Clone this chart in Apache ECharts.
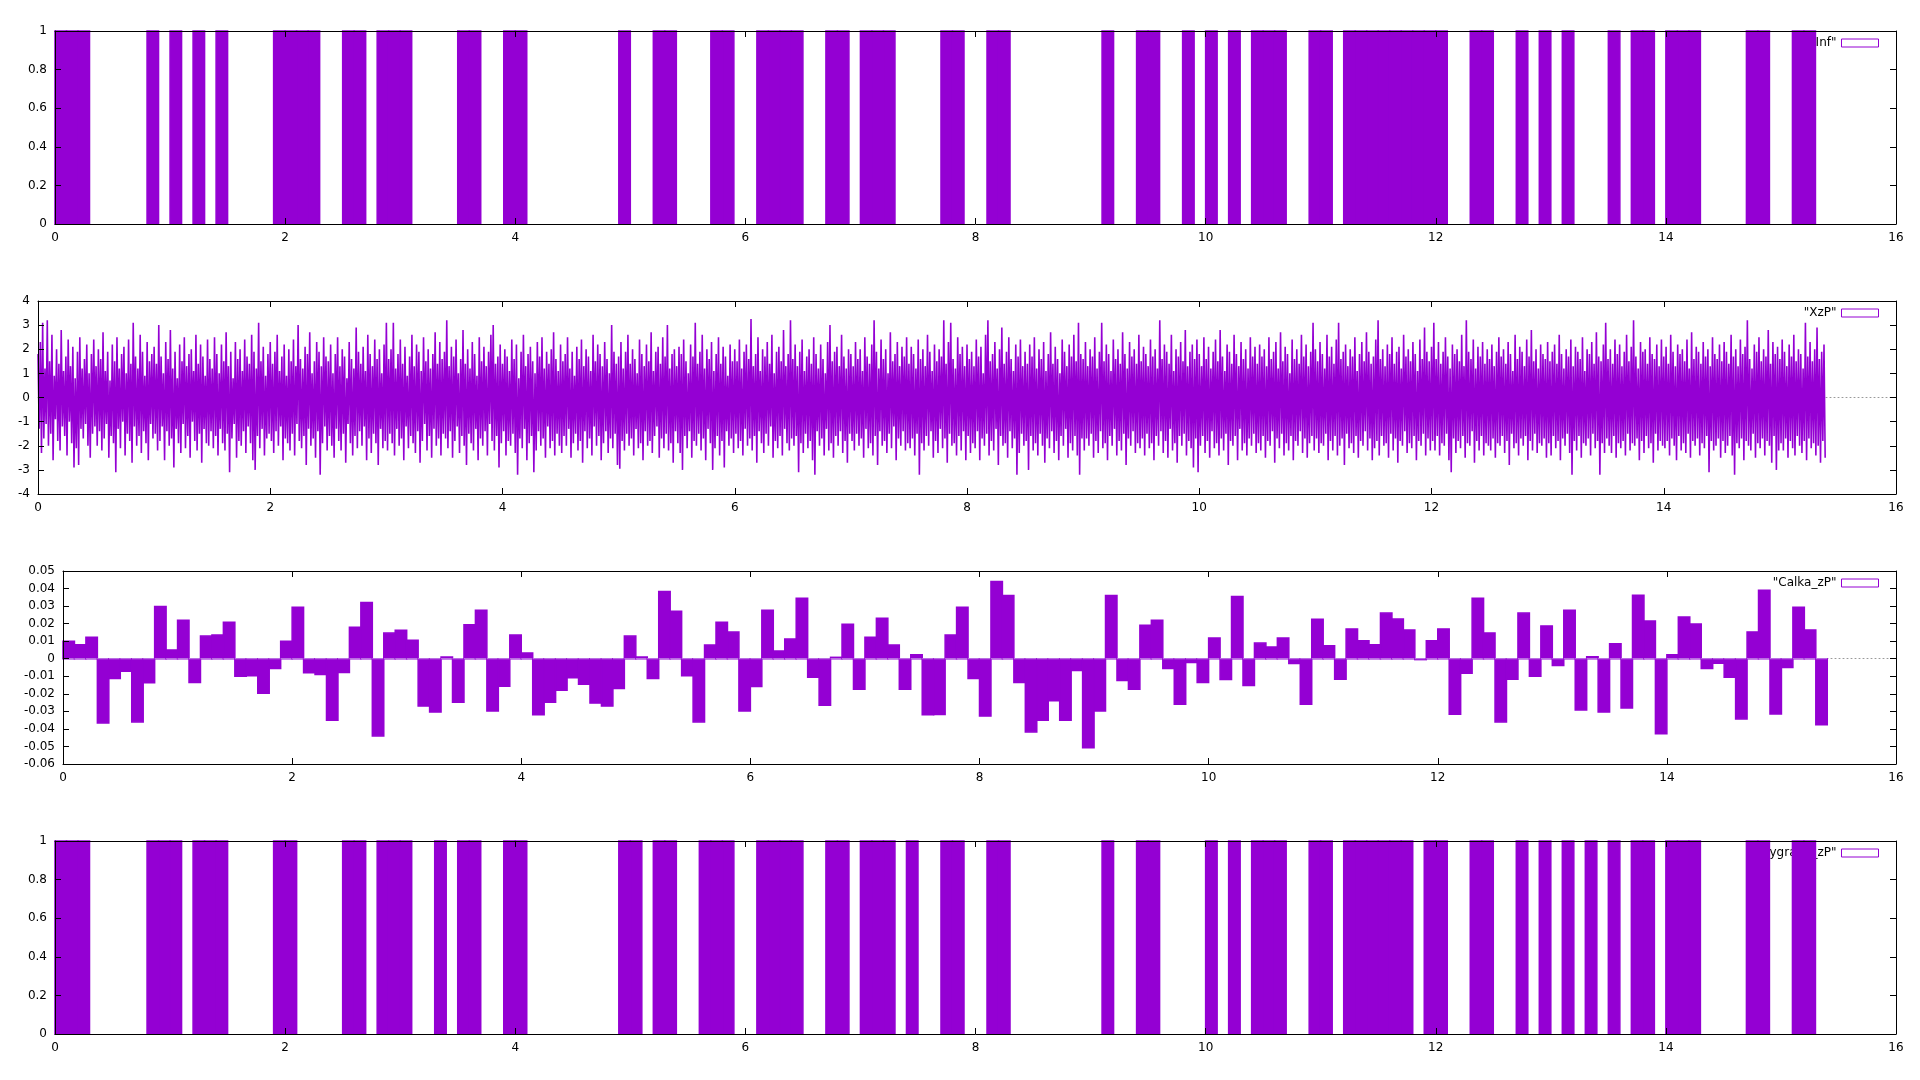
<!DOCTYPE html>
<html>
<head>
<meta charset="utf-8">
<title>Inf / XzP / Calka_zP</title>
<script src="https://cdn.jsdelivr.net/npm/echarts@6/dist/echarts.min.js"></script>
<style>
    html, body { margin: 0; padding: 0; background: #fff; }
    #main { width: 1920px; height: 1080px; }
</style>
</head>
<body>
<div id="main"></div>
<script type="text/javascript">
    // okres bitu i probkowania (jednostki osi x)
    var BIT = 0.1;
    var SAMPLE = 0.01;

    // panel 1: bity nadane
    var infBits = [
        1,1,1,0,0,0,0,0,1,0, 1,0,1,0,1,0,0,0,0,1, 1,1,1,0,0,1,1,0,1,1,
        1,0,0,0,0,1,1,0,0,1, 1,0,0,0,0,0,0,0,0,1, 0,0,1,1,0,0,0,1,1,0,
        0,1,1,1,1,0,0,1,1,0, 1,1,1,0,0,0,0,1,1,0, 0,1,1,0,0,0,0,0,0,0,
        0,1,0,0,1,1,0,0,1,0, 1,0,1,0,1,1,1,0,0,1, 1,0,1,1,1,1,1,1,1,1,
        1,0,0,1,1,0,0,1,0,1, 0,1,0,0,0,1,0,1,1,0, 1,1,1,0,0,0,0,1,1,0,
        0,1,1,0
    ];

    // panel 2: sygnal XzP, naprzemiennie szczyty (hi) i doliny (lo)
    var xzpHi = [
        1.8,2.3,3.1,1.2,3.2,1.5,2.6,0.9,2.0,1.4,2.8,1.1,1.7,2.4,1.3,2.1,0.8,1.9,2.5,1.2,1.6,2.2,1.0,1.8,2.4,
        1.3,2.0,1.6,2.7,1.1,1.9,0.7,2.2,1.5,2.5,1.2,1.8,2.1,1.0,2.4,1.4,3.1,1.7,1.2,2.6,1.9,0.9,2.3,1.5,1.8,
        2.1,1.4,3.0,1.7,1.0,2.3,1.6,2.8,1.2,1.9,0.8,2.2,1.5,2.5,1.3,1.8,2.0,1.1,2.6,1.4,2.2,1.7,0.9,2.4,1.6,
        1.2,2.5,1.8,1.0,2.2,1.5,2.7,1.3,1.9,0.8,2.3,1.6,2.0,1.1,2.4,1.7,1.4,2.6,1.9,1.2,3.1,1.5,2.1,0.9,1.8,
        2.3,1.4,1.9,2.6,1.1,1.7,2.2,0.9,2.0,1.5,2.4,1.3,3.0,1.6,1.2,2.1,1.8,2.7,1.0,1.5,2.3,1.9,1.3,2.5,1.7,
        1.5,2.2,1.0,1.8,2.5,1.3,2.0,1.7,0.8,2.3,1.6,1.2,2.9,1.9,1.4,2.1,1.1,2.6,1.8,1.3,2.4,1.6,2.0,1.0,2.2,
        3.1,1.6,2.0,3.1,1.2,1.8,2.4,1.4,2.1,0.9,1.7,2.6,1.3,2.2,1.9,1.1,2.5,1.5,2.0,1.2,1.8,2.7,1.4,2.3,1.6,
        1.9,3.2,1.3,2.1,1.7,2.4,1.0,1.6,2.8,1.4,2.0,1.2,2.3,1.8,0.9,2.5,1.5,2.1,1.3,1.9,2.6,3.0,1.4,1.7,2.2,
        1.4,2.0,1.7,1.1,2.4,1.6,2.2,0.8,1.9,2.6,1.3,1.8,2.1,1.5,1.0,2.3,1.7,2.5,1.2,1.9,1.4,2.0,2.7,1.6,1.1,
        2.2,1.5,1.8,2.5,1.2,1.9,0.9,2.1,1.6,2.4,1.3,2.0,1.7,1.1,2.6,1.5,2.2,1.8,1.3,2.3,1.6,1.0,3.0,1.9,1.4,
        1.7,2.3,1.2,1.9,2.6,1.4,2.0,1.6,1.0,2.4,1.8,1.3,2.2,1.5,2.7,1.1,1.9,2.1,1.4,2.5,1.7,3.0,1.2,1.8,2.0,
        1.3,2.1,1.8,2.4,1.5,1.0,2.2,1.7,3.1,1.4,1.9,2.6,1.2,2.0,1.6,2.3,1.1,1.8,2.5,1.4,2.1,1.7,0.9,2.2,1.5,
        2.0,1.5,2.4,1.2,1.9,2.2,1.6,3.25,1.3,1.8,2.5,1.1,2.0,1.7,2.3,1.4,2.6,1.0,1.9,2.1,1.5,2.8,1.3,1.8,3.2,
        1.6,2.2,1.3,1.9,2.4,1.1,1.7,2.0,1.4,2.5,1.8,1.2,2.2,1.6,1.0,2.3,3.0,1.5,1.9,2.1,1.3,2.6,1.7,1.2,2.0,
        1.8,1.3,2.3,1.6,2.0,1.1,2.5,1.7,1.4,2.2,3.2,1.9,1.2,2.4,1.6,2.0,1.0,2.7,1.5,1.8,2.3,1.3,2.1,1.7,2.5,
        1.4,2.1,1.8,1.2,2.4,1.6,2.0,1.3,2.6,1.9,1.1,2.2,1.5,2.0,1.7,3.2,1.4,2.3,3.1,1.6,1.2,2.5,1.8,2.1,1.3,
        2.2,1.6,1.9,1.3,2.4,1.7,2.1,1.0,2.6,3.2,1.5,1.8,2.3,1.2,2.0,2.9,1.4,1.9,2.5,1.6,1.1,2.2,1.7,2.4,1.3,
        1.9,1.4,2.2,1.7,2.5,1.2,2.0,1.6,2.3,1.1,1.8,2.7,1.4,2.1,1.6,1.0,2.4,1.9,1.3,2.2,1.7,2.6,1.5,3.1,1.8,
        1.6,2.3,1.3,2.0,1.7,2.5,1.2,1.9,3.1,1.5,2.2,1.8,1.1,2.4,1.6,2.0,1.4,2.7,1.8,1.2,2.3,1.7,2.0,1.4,2.6,
        1.5,2.1,1.8,1.3,2.4,1.7,2.0,1.2,3.2,1.6,2.2,1.9,1.4,2.6,1.1,2.0,1.7,2.3,1.5,2.8,1.3,1.9,2.2,1.6,2.4,
        1.8,1.3,2.5,1.6,2.1,1.2,1.9,2.4,1.5,2.8,1.7,1.1,2.2,1.9,1.4,2.6,1.8,1.3,2.3,1.6,2.0,1.2,2.5,1.7,2.1,
        1.4,2.2,1.7,2.0,1.3,2.5,1.6,1.9,2.3,1.2,2.7,1.5,2.1,1.8,1.0,2.4,1.6,2.0,1.4,2.6,1.7,2.2,1.3,1.9,3.1,
        2.0,1.5,2.3,1.8,1.2,2.6,1.7,2.1,1.4,2.4,3.1,1.6,1.9,2.2,1.3,2.0,1.7,2.5,1.1,1.8,2.3,1.5,2.7,1.9,1.4,
        1.7,2.4,3.2,1.6,2.0,1.3,2.2,1.8,2.5,1.4,1.9,2.1,1.2,2.6,1.7,2.0,1.5,2.3,1.8,1.1,2.4,1.6,2.9,1.9,1.5,
        2.1,3.1,1.6,2.3,1.4,1.9,2.5,1.7,1.2,2.2,1.8,2.0,1.5,2.6,1.3,3.2,1.9,1.6,2.4,1.2,2.1,1.7,2.3,1.4,2.0,
        1.6,2.2,1.3,1.9,2.5,1.7,2.0,1.4,2.3,1.8,1.1,2.6,1.6,2.1,1.9,1.3,2.4,1.7,2.8,1.5,2.0,1.2,2.2,1.8,1.6,
        2.3,1.5,1.9,2.2,1.4,2.6,1.8,1.2,2.0,1.7,2.4,1.3,2.1,1.9,1.6,2.5,1.1,2.0,1.8,2.3,1.4,2.7,1.7,1.5,2.2,
        3.1,1.6,2.0,1.4,2.4,1.8,2.2,1.3,1.9,2.6,1.5,2.1,3.2,1.7,1.2,2.3,1.9,2.0,1.4,2.5,1.8,1.6,2.2,1.3,2.4,
        1.7,2.1,1.4,2.6,1.9,1.3,2.2,1.8,2.0,1.5,2.4,1.2,2.7,1.6,2.1,1.9,1.4,2.3,1.7,2.0,1.3,2.5,1.8,1.6,2.2,
        1.5,2.3,1.9,1.4,2.6,1.7,2.0,1.3,2.4,1.8,2.1,3.2,1.6,1.2,2.2,1.9,2.5,1.5,2.0,1.7,2.8,1.4,2.3,1.8,2.1,
        1.6,2.4,1.9,1.3,2.2,1.7,2.6,1.5,2.0,1.8,1.2,3.1,1.7,2.3,1.5,2.0,2.9,1.6,1.9,2.2
    ];
    var xzpLo = [
        -1.3,-2.3,-1.7,-1.1,-2.0,-1.5,-2.6,-0.9,-1.8,-2.2,-1.2,-1.6,-2.4,-1.0,-1.9,-2.9,-2.1,-2.8,-1.3,-1.7,-1.1,-2.0,-2.5,-1.5,-1.2,
        -2.0,-1.4,-2.2,-1.7,-1.1,-2.5,-1.6,-1.9,-3.1,-1.3,-2.1,-1.0,-2.4,-1.5,-1.8,-2.7,-1.2,-2.0,-1.6,-2.3,-1.4,-1.9,-2.6,-1.1,-1.7,
        -1.5,-2.2,-1.8,-1.2,-2.6,-1.4,-2.0,-1.7,-2.9,-1.3,-1.9,-2.3,-1.1,-2.1,-1.6,-2.5,-1.0,-1.8,-2.2,-1.5,-2.7,-1.3,-1.9,-2.0,-1.4,
        -2.1,-1.6,-2.4,-1.3,-1.9,-2.2,-1.5,-3.1,-1.7,-1.1,-2.5,-1.8,-2.0,-1.4,-2.3,-1.2,-1.9,-2.6,-3.0,-1.6,-2.1,-1.3,-2.4,-1.7,-1.5,
        -1.8,-2.3,-1.4,-2.0,-1.2,-2.6,-1.7,-1.9,-2.2,-1.5,-2.4,-1.1,-1.8,-2.1,-1.6,-2.8,-1.3,-2.0,-1.7,-2.5,-1.4,-3.2,-1.9,-1.2,-2.2,
        -1.6,-2.0,-2.5,-1.3,-1.8,-2.2,-1.5,-2.7,-1.1,-1.9,-2.4,-1.6,-2.1,-1.4,-2.0,-1.2,-2.6,-1.7,-2.3,-1.5,-1.9,-2.8,-1.3,-2.1,-1.8,
        -2.2,-1.5,-1.9,-2.4,-1.3,-2.0,-1.7,-2.6,-1.2,-2.1,-1.6,-1.9,-2.3,-1.4,-2.7,-1.8,-1.1,-2.2,-1.6,-2.5,-1.3,-2.0,-1.7,-2.4,-1.5,
        -1.7,-2.1,-1.4,-2.5,-1.8,-1.2,-2.3,-1.6,-2.0,-2.8,-1.5,-1.9,-2.2,-1.3,-2.6,-1.7,-2.0,-1.4,-2.4,-1.1,-1.8,-2.2,-1.6,-2.9,-1.9,
        -1.4,-2.4,-1.8,-2.0,-1.5,-2.3,-3.2,-1.7,-2.1,-1.3,-2.6,-1.9,-1.6,-3.1,-2.2,-1.4,-2.0,-1.7,-2.5,-1.2,-2.1,-1.8,-2.4,-1.5,-2.0,
        -2.3,-1.6,-2.0,-1.3,-2.5,-1.9,-1.5,-2.2,-1.8,-2.7,-1.4,-2.1,-1.7,-2.4,-1.2,-2.0,-1.6,-2.6,-1.9,-1.4,-2.3,-1.7,-2.1,-1.5,-2.8,
        -2.95,-1.8,-2.2,-1.5,-2.0,-1.7,-2.4,-1.3,-2.1,-1.9,-2.6,-1.4,-2.0,-1.8,-2.3,-1.6,-1.2,-2.5,-1.7,-2.1,-1.5,-2.2,-1.9,-2.7,-1.4,
        -1.9,-2.3,-3.0,-1.6,-2.1,-1.4,-2.5,-1.8,-2.0,-1.5,-2.2,-1.7,-2.6,-1.3,-1.9,-3.0,-2.1,-1.6,-2.4,-1.8,-2.9,-1.4,-2.0,-1.7,-2.3,
        -1.5,-2.1,-1.8,-2.4,-1.3,-2.0,-1.7,-2.2,-1.6,-2.7,-1.4,-1.9,-2.3,-1.5,-2.0,-1.2,-2.5,-1.8,-2.1,-1.6,-2.4,-1.3,-1.9,-2.2,-1.7,
        -2.0,-1.6,-3.1,-1.9,-2.3,-1.5,-2.1,-1.8,-2.6,-3.2,-1.4,-2.0,-1.7,-2.4,-1.3,-2.2,-1.9,-2.5,-1.6,-2.0,-1.4,-2.3,-1.8,-2.7,-1.5,
        -1.8,-2.2,-1.5,-2.0,-1.7,-2.5,-1.3,-2.1,-1.9,-2.4,-1.6,-2.8,-1.4,-2.0,-1.8,-2.3,-1.5,-2.1,-1.2,-2.6,-1.7,-2.0,-1.4,-2.2,-1.9,
        -2.1,-1.7,-2.4,-1.5,-3.2,-1.9,-2.2,-1.6,-2.0,-1.4,-2.5,-1.8,-2.3,-1.3,-2.1,-1.7,-2.7,-1.5,-2.0,-1.9,-2.4,-1.6,-2.2,-1.4,-2.6,
        -1.6,-2.3,-1.9,-2.1,-1.4,-2.6,-1.7,-2.0,-1.5,-2.4,-1.8,-2.2,-1.3,-2.8,-1.6,-2.0,-1.9,-2.5,-1.4,-2.1,-1.7,-3.2,-2.3,-1.5,-2.0,
        -1.8,-3.0,-1.6,-2.2,-1.9,-2.4,-1.5,-2.0,-2.7,-1.7,-2.1,-1.4,-2.3,-1.8,-2.6,-1.6,-2.0,-1.3,-2.5,-1.9,-2.2,-1.6,-2.4,-3.2,-1.7,
        -2.2,-1.7,-2.0,-1.5,-2.5,-1.8,-2.3,-1.4,-2.1,-1.9,-2.6,-1.6,-2.0,-1.3,-2.4,-1.8,-2.2,-1.5,-2.8,-1.7,-2.0,-1.4,-2.3,-1.9,-2.1,
        -1.7,-2.4,-1.5,-2.1,-1.9,-2.6,-1.6,-2.0,-1.4,-2.3,-1.8,-2.5,-1.3,-2.2,-1.9,-2.7,-1.6,-2.0,-1.5,-2.4,-1.8,-2.1,-2.9,-1.7,-3.1,
        -2.0,-1.6,-2.3,-1.8,-2.5,-1.4,-2.1,-1.9,-2.4,-1.7,-2.2,-1.5,-2.8,-1.8,-2.0,-1.6,-2.6,-1.3,-2.2,-1.9,-2.4,-1.7,-2.0,-1.5,-2.3,
        -1.9,-2.2,-1.6,-2.5,-1.8,-2.0,-1.4,-2.7,-1.7,-2.1,-1.5,-2.4,-1.9,-2.2,-1.6,-2.6,-1.8,-2.0,-1.4,-2.3,-1.7,-2.5,-1.9,-1.6,-2.2,
        -1.7,-2.3,-1.9,-2.0,-1.5,-2.6,-1.8,-2.2,-1.6,-2.4,-2.0,-1.7,-2.8,-1.5,-2.1,-1.9,-2.3,-1.6,-2.5,-1.8,-2.0,-1.4,-2.2,-1.7,-2.6,
        -2.1,-1.8,-2.4,-1.6,-2.0,-1.9,-2.5,-1.5,-2.2,-1.7,-2.7,-1.8,-2.0,-1.4,-2.3,-1.9,-2.1,-1.6,-2.6,-1.8,-2.0,-1.5,-2.4,-1.7,-2.2,
        -1.8,-2.2,-1.6,-2.4,-1.9,-2.0,-1.5,-2.6,-3.1,-1.7,-2.3,-1.8,-2.1,-1.6,-2.5,-1.9,-2.0,-1.4,-2.7,-1.8,-2.2,-1.6,-2.4,-1.9,-2.0,
        -2.2,-1.7,-2.5,-1.9,-2.0,-1.6,-2.3,-1.8,-2.8,-1.5,-2.1,-1.9,-2.4,-1.7,-2.0,-1.6,-2.6,-1.8,-2.2,-1.5,-2.3,-1.9,-2.0,-1.7,-2.5,
        -1.9,-2.4,-1.6,-2.1,-1.8,-2.6,-1.7,-2.0,-1.5,-2.3,-3.2,-1.8,-2.2,-1.6,-2.5,-1.9,-2.0,-1.7,-2.4,-1.5,-2.1,-1.8,-3.2,-1.9,-2.3,
        -1.7,-2.0,-2.3,-1.6,-2.5,-1.9,-2.1,-1.8,-2.4,-1.5,-2.2,-1.9,-2.0,-1.7,-2.6,-1.8,-2.3,-1.6,-2.1,-1.9,-2.7,-1.5,-2.2,-1.8,-2.0,
        -2.1,-1.8,-2.4,-1.7,-2.0,-2.6,-1.6,-2.2,-1.9,-2.3,-1.5,-2.5,-1.8,-2.0,-1.7,-2.4,-1.9,-2.1,-1.6,-3.1,-1.8,-2.2,-2.0,-1.7,-2.5,
        -1.8,-2.3,-2.0,-1.6,-2.4,-3.2,-1.9,-2.1,-1.7,-2.6,-1.8,-2.0,-2.2,-1.5,-2.5,-1.9,-2.1,-1.7,-2.4,-1.8,-2.0,-2.7,-1.6,-3.0,-2.2,
        -1.9,-2.2,-1.7,-2.5,-1.8,-2.1,-2.4,-1.6,-2.0,-2.3,-1.8,-2.6,-1.7,-2.1,-1.9,-2.4,-2.0,-2.7,-1.8,-2.5
    ];

    // panel 3: calka z iloczynu na kazdym bicie
    var calka = [
        0.010,0.008,0.0123,-0.0366,-0.0112,-0.0072,-0.036,-0.0137,0.0298,0.005,
        0.022,-0.0135,0.0129,0.0135,0.0208,-0.010,-0.0097,-0.0197,-0.0056,0.010,
        0.0293,-0.008,-0.009,-0.035,-0.0078,0.018,0.032,-0.044,0.0146,0.0163,
        0.0106,-0.027,-0.0304,0.001,-0.0248,0.0193,0.0276,-0.0298,-0.0157,0.0135,
        0.0033,-0.032,-0.0248,-0.018,-0.0108,-0.0146,-0.0253,-0.027,-0.0169,0.0129,
        0.001,-0.0112,0.0383,0.027,-0.0097,-0.036,0.0078,0.0208,0.0152,-0.0298,
        -0.0159,0.0276,0.0044,0.0112,0.0344,-0.0106,-0.0265,0.0008,0.0197,-0.0174,
        0.0123,0.023,0.0078,-0.0174,0.0022,-0.032,-0.0318,0.0135,0.0293,-0.0112,
        -0.0327,0.044,0.0361,-0.0135,-0.0417,-0.035,-0.0239,-0.035,-0.0067,-0.0508,
        -0.0298,0.0361,-0.0124,-0.0174,0.0191,0.022,-0.0056,-0.0259,-0.0022,-0.0135,
        0.0118,-0.0118,0.0355,-0.0152,0.0089,0.0067,0.0118,-0.0027,-0.0259,0.0225,
        0.0074,-0.0117,0.017,0.0102,0.0079,0.026,0.0226,0.0164,-0.0005,0.0102,
        0.017,-0.0317,-0.0083,0.0345,0.0147,-0.036,-0.0117,0.026,-0.01,0.0187,
        -0.0038,0.0277,-0.0292,0.0011,-0.0304,0.0085,-0.0281,0.0362,0.0215,-0.0428,
        0.0023,0.0238,0.0198,-0.0055,-0.0026,-0.0106,-0.0343,0.0153,0.039,-0.0315,
        -0.005,0.0294,0.0164,-0.0377
    ];

    // panel 4: bity odebrane
    var wygranaBits = [
        1,1,1,0,0,0,0,0,1,1, 1,0,1,1,1,0,0,0,0,1, 1,0,0,0,0,1,1,0,1,1,
        1,0,0,1,0,1,1,0,0,1, 1,0,0,0,0,0,0,0,0,1, 1,0,1,1,0,0,1,1,1,0,
        0,1,1,1,1,0,0,1,1,0, 1,1,1,0,1,0,0,1,1,0, 0,1,1,0,0,0,0,0,0,0,
        0,1,0,0,1,1,0,0,0,0, 1,0,1,0,1,1,1,0,0,1, 1,0,1,1,1,1,1,1,0,1,
        1,0,0,1,1,0,0,1,0,1, 0,1,0,1,0,1,0,1,1,0, 1,1,1,0,0,0,0,1,1,0,
        0,1,1,0
    ];

    var names = ['"Inf"', '"XzP"', '"Calka_zP"', '"Wygrana_zP"'];
    var yRanges = [[0, 1, 0.2], [-4, 4, 1], [-0.06, 0.05, 0.01], [0, 1, 0.2]];

    var PURPLE = '#9400d3';
    var font = { color: '#000', fontFamily: 'DejaVu Sans', fontSize: 12 };

    var grids = [
        { left: 55, top: 31, width: 1841, height: 193 },
        { left: 38, top: 301, width: 1858, height: 193 },
        { left: 63, top: 571, width: 1833, height: 193 },
        { left: 55, top: 841, width: 1841, height: 193 }
    ];

    function toBoxes(arr) {
        return arr.map(function (v, i) { return [i * BIT, v]; });
    }

    function boxRender(withBase) {
        return function (params, api) {
            var x0 = api.value(0), v = api.value(1);
            var p0 = api.coord([x0, 0]);
            var p1 = api.coord([x0 + BIT, v]);
            var kids = [];
            if (v !== 0) {
                kids.push({
                    type: 'rect',
                    shape: { x: p0[0], y: Math.min(p0[1], p1[1]), width: p1[0] - p0[0], height: Math.abs(p1[1] - p0[1]) },
                    style: { fill: PURPLE, stroke: PURPLE, lineWidth: 1.5 }
                });
            }
            if (withBase) {
                kids.push({
                    type: 'line',
                    shape: { x1: p0[0], y1: p0[1], x2: p1[0], y2: p0[1] },
                    style: { stroke: '#c58ee6', lineWidth: 1 }
                });
            }
            return { type: 'group', children: kids };
        };
    }

    var xzp = [];
    for (var k = 0; k < xzpHi.length; k++) {
        xzp.push([2 * k * SAMPLE, xzpHi[k]]);
        xzp.push([(2 * k + 1) * SAMPLE, xzpLo[k]]);
    }

    var xAxes = [], yAxes = [], xMain = [];
    grids.forEach(function (g, i) {
        xMain.push(xAxes.length);
        xAxes.push({
            gridIndex: i, type: 'value', min: 0, max: 16, interval: 2, position: 'bottom', z: 5,
            axisLine: { onZero: false, lineStyle: { color: '#000', width: 1 } },
            axisTick: { inside: true, length: 6, lineStyle: { color: '#000' } },
            axisLabel: Object.assign({ margin: 8, showMinLabel: true, showMaxLabel: true }, font),
            splitLine: { show: false }
        });
        xAxes.push({
            gridIndex: i, type: 'value', min: 0, max: 16, interval: 2, position: 'top', z: 5,
            axisLine: { onZero: false, lineStyle: { color: '#000', width: 1 } },
            axisTick: { inside: true, length: 6, lineStyle: { color: '#000' } },
            axisLabel: { show: false }, splitLine: { show: false }
        });
        if (i === 1 || i === 2) {
            // kropkowana os zera
            xAxes.push({
                gridIndex: i, type: 'value', min: 0, max: 16, position: 'bottom', z: 0,
                axisLine: { onZero: true, onZeroAxisIndex: 2 * i, lineStyle: { color: '#999', width: 1, type: [1, 3] } },
                axisTick: { show: false }, axisLabel: { show: false }, splitLine: { show: false }
            });
        }
        var r = yRanges[i];
        yAxes.push({
            gridIndex: i, type: 'value', min: r[0], max: r[1], interval: r[2], position: 'left', z: 5,
            axisLine: { show: true, onZero: false, lineStyle: { color: '#000', width: 1 } },
            axisTick: { show: true, inside: true, length: 6, lineStyle: { color: '#000' } },
            axisLabel: Object.assign({ margin: 8, showMinLabel: true, showMaxLabel: true }, font),
            splitLine: { show: false }
        });
        yAxes.push({
            gridIndex: i, type: 'value', min: r[0], max: r[1], interval: r[2], position: 'right', z: 5,
            axisLine: { show: true, onZero: false, lineStyle: { color: '#000', width: 1 } },
            axisTick: { show: true, inside: true, length: 6, lineStyle: { color: '#000' } },
            axisLabel: { show: false }, splitLine: { show: false }
        });
    });

    var legends = names.map(function (n, i) {
        return {
            data: [{ name: n, icon: 'rect', itemStyle: { color: '#fff', borderColor: PURPLE, borderWidth: 1 } }],
            right: 41, top: grids[i].top + 6, padding: 0, align: 'right', orient: 'horizontal',
            itemWidth: 37, itemHeight: 8, selectedMode: false, z: 1,
            textStyle: font
        };
    });

    var myChart = echarts.init(document.getElementById('main'));
    var option = {
        backgroundColor: '#fff',
        animation: false,
        grid: grids,
        legend: legends,
        xAxis: xAxes,
        yAxis: yAxes,
        series: [
            {
                name: names[0], type: 'custom', xAxisIndex: xMain[0], yAxisIndex: 0, z: 2,
                renderItem: boxRender(false), encode: { x: 0, y: 1 }, data: toBoxes(infBits),
                itemStyle: { color: PURPLE }
            },
            {
                name: names[1], type: 'line', xAxisIndex: xMain[1], yAxisIndex: 2, z: 2,
                showSymbol: false, symbol: 'none', sampling: null,
                lineStyle: { color: PURPLE, width: 1.6 }, itemStyle: { color: PURPLE },
                data: xzp
            },
            {
                name: names[2], type: 'custom', xAxisIndex: xMain[2], yAxisIndex: 4, z: 2,
                renderItem: boxRender(true), encode: { x: 0, y: 1 }, data: toBoxes(calka),
                itemStyle: { color: PURPLE }
            },
            {
                name: names[3], type: 'custom', xAxisIndex: xMain[3], yAxisIndex: 6, z: 2,
                renderItem: boxRender(false), encode: { x: 0, y: 1 }, data: toBoxes(wygranaBits),
                itemStyle: { color: PURPLE }
            }
        ]
    };
    myChart.setOption(option);
</script>
</body>
</html>
